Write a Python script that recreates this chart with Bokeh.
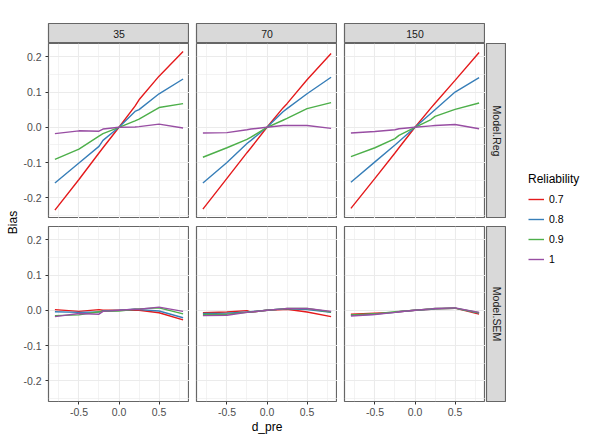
from bokeh.core.properties import value
from bokeh.embed import file_html
from bokeh.layouts import column, row
from bokeh.models import FixedTicker, Legend, LegendItem, PrintfTickFormatter, Range1d
from bokeh.plotting import figure
from bokeh.resources import INLINE
import math

# ---- data ----
d_pre = [-0.8, -0.5, -0.25, -0.2, 0.0, 0.2, 0.25, 0.5, 0.8]
sample_sizes = ["35", "70", "150"]
models = ["Model.Reg", "Model.SEM"]
reliability = ["0.7", "0.8", "0.9", "1"]
colors = ["#E41A1C", "#377EB8", "#4DAF4A", "#984EA3"]

# one list per reliability level (0.7, 0.8, 0.9, 1)
reg_35 = [
    [-0.235, -0.148, -0.073, -0.058, 0.0, 0.060, 0.078, 0.145, 0.215],
    [-0.158, -0.101, -0.054, -0.037, 0.0, 0.045, 0.050, 0.095, 0.137],
    [-0.091, -0.062, -0.025, -0.018, 0.0, 0.018, 0.023, 0.056, 0.067],
    [-0.018, -0.010, -0.011, -0.005, 0.0, 0.001, 0.002, 0.009, -0.002],
]
reg_70 = [
    [-0.232, -0.145, -0.072, -0.058, 0.0, 0.055, 0.067, 0.135, 0.209],
    [-0.158, -0.100, -0.046, -0.037, 0.0, 0.044, 0.053, 0.095, 0.142],
    [-0.085, -0.058, -0.034, -0.028, 0.0, 0.020, 0.025, 0.053, 0.070],
    [-0.016, -0.015, -0.007, -0.005, 0.0, 0.005, 0.005, 0.005, -0.003],
]
reg_150 = [
    [-0.230, -0.145, -0.073, -0.058, 0.0, 0.055, 0.068, 0.133, 0.212],
    [-0.156, -0.098, -0.050, -0.040, 0.0, 0.040, 0.050, 0.100, 0.141],
    [-0.083, -0.058, -0.032, -0.023, 0.0, 0.022, 0.031, 0.051, 0.069],
    [-0.016, -0.012, -0.007, -0.004, 0.0, 0.004, 0.005, 0.008, -0.004],
]
sem_35 = [
    [0.002, -0.003, 0.002, 0.000, 0.0, 0.001, 0.000, -0.007, -0.027],
    [-0.004, -0.006, -0.005, -0.002, 0.0, 0.003, 0.002, -0.002, -0.021],
    [-0.015, -0.013, -0.004, -0.003, -0.002, 0.003, 0.004, 0.007, -0.010],
    [-0.018, -0.009, -0.011, -0.003, 0.0, 0.003, 0.003, 0.009, -0.003],
]
sem_70 = [
    [-0.007, -0.005, -0.001, -0.005, 0.0, 0.002, 0.003, -0.005, -0.018],
    [-0.009, -0.008, -0.005, -0.004, 0.0, 0.004, 0.004, 0.002, -0.006],
    [-0.012, -0.011, -0.006, -0.005, 0.0, 0.004, 0.005, 0.005, -0.005],
    [-0.015, -0.014, -0.006, -0.005, 0.0, 0.004, 0.005, 0.005, -0.003],
]
sem_150 = [
    [-0.011, -0.008, -0.006, -0.004, 0.0, 0.003, 0.004, 0.006, -0.011],
    [-0.014, -0.011, -0.006, -0.004, 0.0, 0.003, 0.004, 0.006, -0.008],
    [-0.013, -0.010, -0.004, -0.003, 0.0, 0.004, 0.005, 0.006, -0.007],
    [-0.016, -0.012, -0.006, -0.004, 0.0, 0.004, 0.005, 0.007, -0.006],
]
panels = [[reg_35, reg_70, reg_150], [sem_35, sem_70, sem_150]]

x_ticks = [-0.5, 0.0, 0.5]
x_minor = [-0.75, -0.25, 0.25, 0.75]
y_ticks = [-0.2, -0.1, 0.0, 0.1, 0.2]
y_minor = [-0.25, -0.15, -0.05, 0.05, 0.15]

FONT = "Liberation Sans"
BORDER = "#666666"
TICK = "#333333"
FRAME_W = 141
FRAME_H = 175
TOP = 23
STRIP = 20
GAP = 7
ROW_GAP = 8
BOTTOM = 39
LEFT = 28
YLAB_W = 20
TOTAL_H = TOP + STRIP + FRAME_H + ROW_GAP + FRAME_H + BOTTOM


def borders(f, left=0, right=0, top=0, bottom=0):
    f.min_border_left = left
    f.min_border_right = right
    f.min_border_top = top
    f.min_border_bottom = bottom


def make_panel(series, left, top, bottom, show_x, show_y, xlabel=None):
    p = figure(width=left + FRAME_W, height=top + FRAME_H + bottom,
               x_range=Range1d(-0.88, 0.88), y_range=Range1d(-0.2586, 0.2376),
               toolbar_location=None, tools="", output_backend="svg")
    borders(p, left=left, top=top, bottom=bottom)
    p.outline_line_color = BORDER
    p.outline_line_width = 1.2

    p.xaxis.ticker = FixedTicker(ticks=x_ticks, minor_ticks=x_minor)
    p.yaxis.ticker = FixedTicker(ticks=y_ticks, minor_ticks=y_minor)
    p.xgrid.ticker = FixedTicker(ticks=x_ticks, minor_ticks=x_minor)
    p.ygrid.ticker = FixedTicker(ticks=y_ticks, minor_ticks=y_minor)
    p.grid.grid_line_color = "#EBEBEB"
    p.grid.grid_line_width = 1.1
    p.grid.minor_grid_line_color = "#EBEBEB"
    p.grid.minor_grid_line_width = 0.6

    for vals, c in zip(series, colors):
        p.line(d_pre, vals, line_color=c, line_width=1.4)

    p.axis.formatter = PrintfTickFormatter(format="%.1f")
    p.axis.axis_line_color = None
    p.axis.major_tick_in = 0
    p.axis.major_tick_out = 3
    p.axis.major_tick_line_color = TICK
    p.axis.minor_tick_line_color = None
    p.axis.major_label_text_font = FONT
    p.axis.major_label_text_font_size = "10.5px"
    p.axis.major_label_text_color = "#4D4D4D"
    p.xaxis.major_label_standoff = 2
    p.yaxis.major_label_standoff = 3
    p.xaxis.visible = show_x
    p.yaxis.visible = show_y
    if xlabel:
        p.xaxis.axis_label = xlabel
        p.xaxis.axis_label_text_font = FONT
        p.xaxis.axis_label_text_font_size = "12px"
        p.xaxis.axis_label_text_font_style = "normal"
        p.xaxis.axis_label_text_color = "black"
        p.xaxis.axis_label_standoff = 1
    return p


def make_strip(label, width, height, left=0, top=0, bottom=0, vertical=False):
    s = figure(width=width, height=height, x_range=Range1d(0, 1), y_range=Range1d(0, 1),
               toolbar_location=None, tools="", output_backend="svg")
    borders(s, left=left, top=top, bottom=bottom)
    s.axis.visible = False
    s.grid.visible = False
    s.background_fill_color = "#D9D9D9"
    s.outline_line_color = BORDER
    s.outline_line_width = 1.2
    s.text(x=[0.5], y=[0.5], text=[label], angle=-math.pi / 2 if vertical else 0,
           text_align="center", text_baseline="middle", text_font=value(FONT),
           text_font_size="10.5px", text_color="#1A1A1A")
    return s


# strips on top
lefts = [LEFT, GAP, GAP]
strip_row = row(*[make_strip(n, l + FRAME_W, TOP + STRIP, left=l, top=TOP)
                  for n, l in zip(sample_sizes, lefts)])

# panel rows with strips on the right
grid_rows = []
for i, model in enumerate(models):
    top = 0 if i == 0 else ROW_GAP
    bottom = 0 if i == 0 else BOTTOM
    figs = []
    for j in range(len(sample_sizes)):
        figs.append(make_panel(panels[i][j], lefts[j], top, bottom,
                               show_x=(i == 1), show_y=(j == 0),
                               xlabel="d_pre" if (i == 1 and j == 1) else None))
    figs.append(make_strip(model, 1 + STRIP, top + FRAME_H + bottom, left=1, top=top,
                           bottom=bottom, vertical=True))
    grid_rows.append(row(*figs))

block = column(strip_row, *grid_rows)
block_w = YLAB_W + sum(lefts) + 3 * FRAME_W + 1 + STRIP

# shared y axis title: an empty axis spanning both panel rows
yl = figure(width=YLAB_W, height=TOTAL_H, x_range=Range1d(0, 1), y_range=Range1d(0, 1),
            toolbar_location=None, tools="", output_backend="svg")
borders(yl, left=YLAB_W - 1, top=TOP + STRIP, bottom=BOTTOM)
yl.xaxis.visible = False
yl.grid.visible = False
yl.outline_line_color = None
yl.yaxis.ticker = FixedTicker(ticks=[])
yl.yaxis.axis_line_color = None
yl.yaxis.major_tick_line_color = None
yl.yaxis.minor_tick_line_color = None
yl.yaxis.axis_label = "Bias"
yl.yaxis.axis_label_standoff = 0
yl.yaxis.axis_label_text_font = FONT
yl.yaxis.axis_label_text_font_size = "12px"
yl.yaxis.axis_label_text_font_style = "normal"
yl.yaxis.axis_label_text_color = "black"

# legend (its line renderers are hidden, only the keys are drawn);
# same top/bottom borders as yl, since plots in one row get aligned
leg = figure(width=594 - block_w, height=TOTAL_H, x_range=Range1d(-1, 1),
             y_range=Range1d(-1, 1), toolbar_location=None, tools="", output_backend="svg")
borders(leg, left=22, top=TOP + STRIP, bottom=BOTTOM)
leg.axis.visible = False
leg.grid.visible = False
leg.outline_line_color = None
items = []
for lab, c, vals in zip(reliability, colors, reg_35):
    r = leg.line(d_pre, vals, line_color=c, line_width=1.4, visible=False)
    items.append(LegendItem(label=lab, renderers=[r]))
legend = Legend(items=items, location=(0, 134), title="Reliability",
                margin=0, padding=0, spacing=4, glyph_width=16, glyph_height=16,
                label_height=16, label_standoff=5, title_standoff=5,
                border_line_color=None, background_fill_alpha=0)
legend.title_text_font = FONT
legend.title_text_font_size = "12px"
legend.title_text_font_style = "normal"
legend.title_text_color = "black"
legend.label_text_font = FONT
legend.label_text_font_size = "10.5px"
legend.label_text_color = "black"
leg.add_layout(legend)

p = row(yl, block, leg)

open("out.html", "w").write(file_html(p, INLINE))
